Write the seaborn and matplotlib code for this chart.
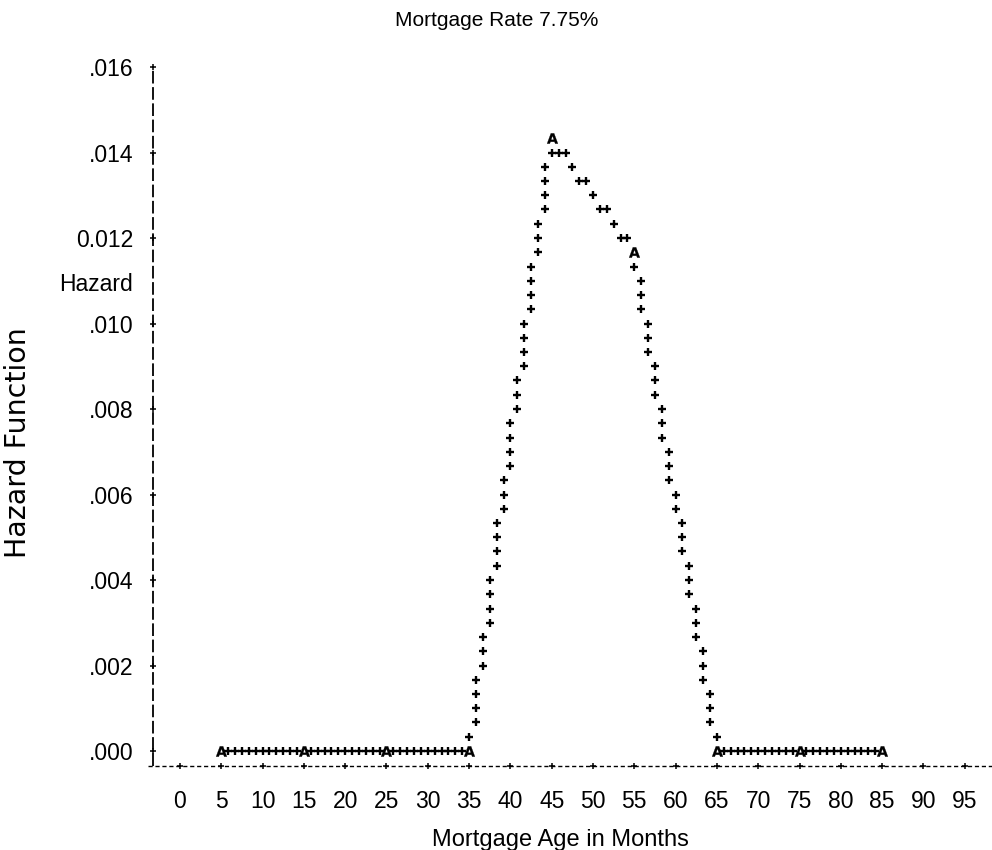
import matplotlib
matplotlib.use("Agg")
import matplotlib.pyplot as plt
import pandas as pd
import seaborn as sns

# flat stretches near zero (printer-plot "+" symbols)
plateau_lo = [5.83, 6.67, 7.5, 8.33, 9.17, 10.0, 10.83, 11.67, 12.5, 13.33, 14.17,
              15.83, 16.67, 17.5, 18.33, 19.17, 20.0, 20.83, 21.67, 22.5, 23.33, 24.17,
              25.83, 26.67, 27.5, 28.33, 29.17, 30.0, 30.83, 31.67, 32.5, 33.33, 34.17]
plateau_hi = [65.83, 66.67, 67.5, 68.33, 69.17, 70.0, 70.83, 71.67, 72.5, 73.33, 74.17,
              75.83, 76.67, 77.5, 78.33, 79.17, 80.0, 80.83, 81.67, 82.5, 83.33, 84.17]
plateau_hazard = 0.0

# rising side
rise_months = [35.0,
               35.83, 35.83, 35.83, 35.83,
               36.67, 36.67, 36.67,
               37.5, 37.5, 37.5, 37.5,
               38.33, 38.33, 38.33, 38.33,
               39.17, 39.17, 39.17,
               40.0, 40.0, 40.0, 40.0,
               40.83, 40.83, 40.83,
               41.67, 41.67, 41.67, 41.67,
               42.5, 42.5, 42.5, 42.5,
               43.33, 43.33, 43.33,
               44.17, 44.17, 44.17, 44.17,
               45.0, 45.83, 46.67]
rise_hazard = [0.00033,
               0.00067, 0.00100, 0.00133, 0.00167,
               0.00200, 0.00233, 0.00267,
               0.00300, 0.00333, 0.00367, 0.00400,
               0.00433, 0.00467, 0.00500, 0.00533,
               0.00567, 0.00600, 0.00633,
               0.00667, 0.00700, 0.00733, 0.00767,
               0.00800, 0.00833, 0.00867,
               0.00900, 0.00933, 0.00967, 0.01000,
               0.01033, 0.01067, 0.01100, 0.01133,
               0.01167, 0.01200, 0.01233,
               0.01267, 0.01300, 0.01333, 0.01367,
               0.01400, 0.01400, 0.01400]

# falling side
fall_months = [47.5, 48.33, 49.17, 50.0, 50.83, 51.67, 52.5, 53.33, 54.17, 55.0,
               55.83, 55.83, 55.83,
               56.67, 56.67, 56.67,
               57.5, 57.5, 57.5,
               58.33, 58.33, 58.33,
               59.17, 59.17, 59.17,
               60.0, 60.0,
               60.83, 60.83, 60.83,
               61.67, 61.67, 61.67,
               62.5, 62.5, 62.5,
               63.33, 63.33, 63.33,
               64.17, 64.17, 64.17,
               65.0]
fall_hazard = [0.01367, 0.01333, 0.01333, 0.01300, 0.01267, 0.01267, 0.01233, 0.01200, 0.01200, 0.01133,
               0.01033, 0.01067, 0.01100,
               0.00933, 0.00967, 0.01000,
               0.00833, 0.00867, 0.00900,
               0.00733, 0.00767, 0.00800,
               0.00633, 0.00667, 0.00700,
               0.00567, 0.00600,
               0.00467, 0.00500, 0.00533,
               0.00367, 0.00400, 0.00433,
               0.00267, 0.00300, 0.00333,
               0.00167, 0.00200, 0.00233,
               0.00067, 0.00100, 0.00133,
               0.00033]

# "A" symbols
a_months = [5, 15, 25, 35, 45, 55, 65, 75, 85]
a_hazard = [0.0, 0.0, 0.0, 0.0, 0.01433, 0.01167, 0.0, 0.0, 0.0]

x_ticks = list(range(0, 100, 5))
x_labels = [str(v) for v in x_ticks]
y_ticks = [0.0, 0.002, 0.004, 0.006, 0.008, 0.010, 0.012, 0.014, 0.016]
y_labels = [".000", ".002", ".004", ".006", ".008", ".010", "0.012", ".014", ".016"]
extra_label_pos = 0.01097
extra_label = "Hazard"

sns.set_theme(style="white")
plt.rcParams["font.family"] = ["Liberation Sans", "DejaVu Sans"]

fig = plt.figure(figsize=(9.92, 8.5), dpi=100)
ax = fig.add_axes([140 / 992, 75 / 850, 852 / 992, 715 / 850])

plus = pd.DataFrame({
    "month": plateau_lo + rise_months + fall_months + plateau_hi,
    "hazard": [plateau_hazard] * len(plateau_lo) + rise_hazard + fall_hazard
              + [plateau_hazard] * len(plateau_hi),
})
sns.scatterplot(data=plus, x="month", y="hazard", marker="+", s=36,
                linewidth=1.7, color="black", ax=ax)
sns.scatterplot(x=a_months, y=a_hazard, marker="$\\mathbf{A}$", s=60,
                color="black", edgecolor="black", linewidth=0.2, ax=ax)

# printer-style axes
axis_x = -3.27
axis_y = -0.00035
ax.plot([axis_x, axis_x], [axis_y, y_ticks[-1]], color="black", lw=1.3,
        ls=(0, (7, 2)))
ax.plot([-3.9, 98.3], [axis_y, axis_y], color="black", lw=1.0, ls=(0, (3, 2)))
ax.scatter([axis_x] * len(y_ticks), y_ticks, marker="+", s=22, lw=1.1, color="black")
ax.scatter(x_ticks, [axis_y] * len(x_ticks), marker="+", s=22, lw=1.1, color="black")

ax.set_xlim(-4.84, 98.3)
ax.set_ylim(-0.000561, 0.016164)
ax.set_xticks(x_ticks)
ax.set_xticklabels(x_labels)
ax.set_yticks(y_ticks + [extra_label_pos])
ax.set_yticklabels(y_labels + [extra_label])
ax.tick_params(axis="x", length=0, pad=11, labelsize=16.5, colors="black")
ax.tick_params(axis="y", length=0, pad=5, labelsize=16.5, colors="black")
for s in ax.spines.values():
    s.set_visible(False)
ax.set_xlabel("")
ax.set_ylabel("")

fig.text(497 / 992, 1 - 20 / 850, "Mortgage Rate 7.75%", ha="center", va="center",
         fontsize=15, color="black")
fig.text(560 / 992, 1 - 840 / 850, "Mortgage Age in Months", ha="center", va="center",
         fontsize=17, color="black")
fig.text(18 / 992, 1 - 443 / 850, "Hazard Function", ha="center", va="center",
         rotation=90, fontsize=20.5, family="DejaVu Sans", color="black")

fig.savefig("out.png", dpi=100)
